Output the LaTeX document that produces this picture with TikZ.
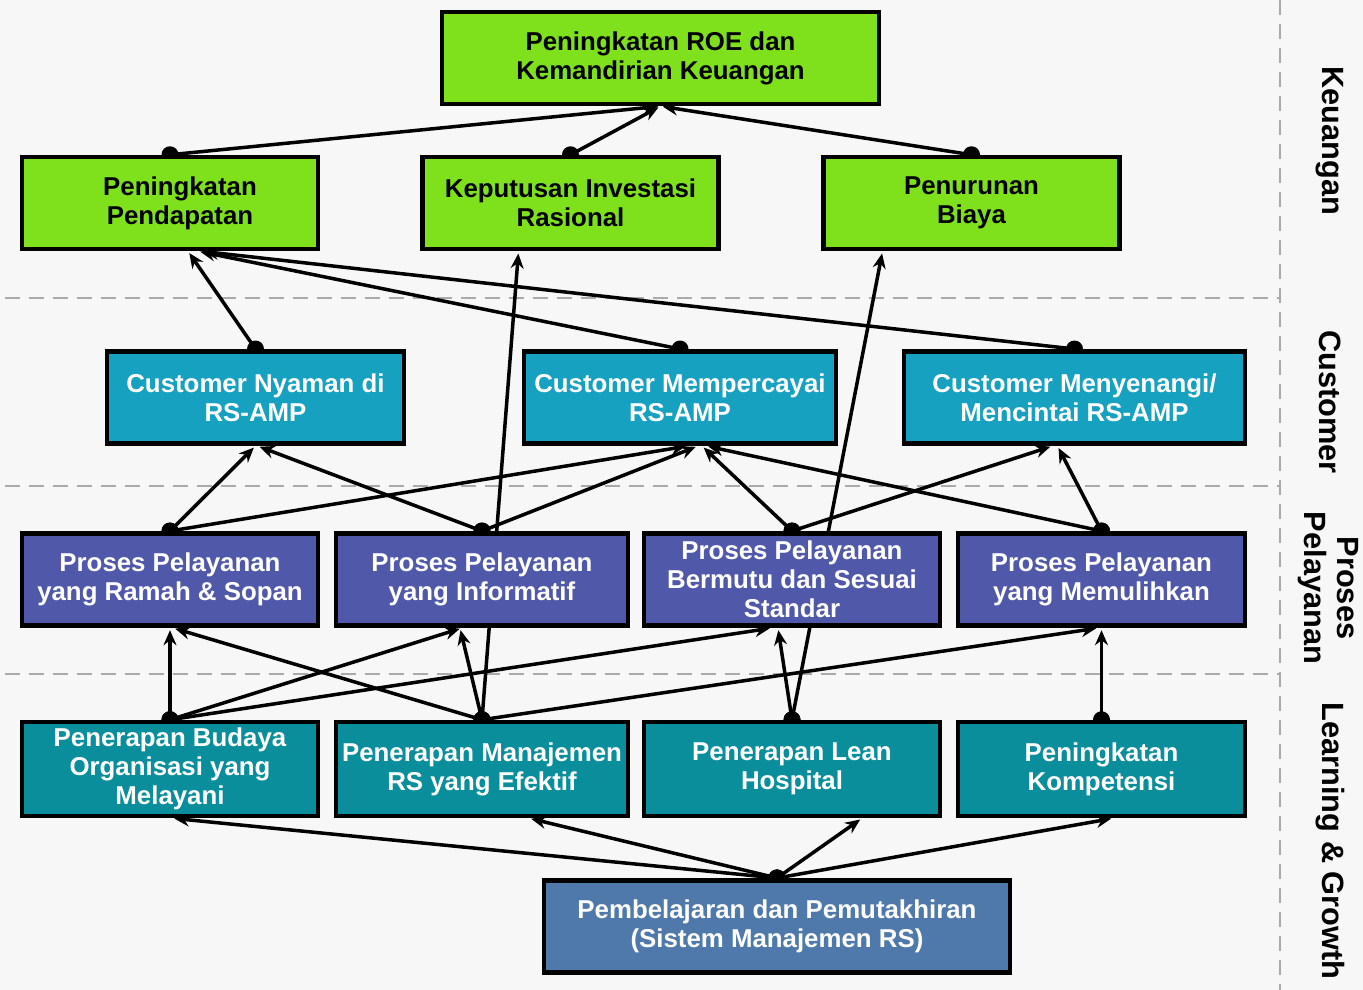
\documentclass[tikz,border=0pt]{standalone}
\usepackage{fontspec}
\setmainfont{Liberation Sans}
\usetikzlibrary{arrows.meta,calc}
\pgfdeclarelayer{bg}
\pgfdeclarelayer{wires}
\pgfsetlayers{bg,wires,main}
\definecolor{cgreen}{HTML}{7FE11B}
\definecolor{ccyan}{HTML}{17A1C1}
\definecolor{cpurple}{HTML}{5058AA}
\definecolor{cteal}{HTML}{0B8E9B}
\definecolor{csteel}{HTML}{4E79AA}
\definecolor{sepgray}{HTML}{AAAAAA}
\definecolor{bgcol}{HTML}{F7F7F7}
\tikzset{
  box/.style={draw=black, line width=0.09cm, inner sep=0pt, align=center,
    font=\fontsize{14.7}{16.4}\selectfont\bfseries, minimum height=1.85cm},
  gbox/.style={box, fill=cgreen, text=black},
  cbox/.style={box, fill=ccyan, text=white},
  pbox/.style={box, fill=cpurple, text=white},
  tbox/.style={box, fill=cteal, text=white},
  bbox/.style={box, fill=csteel, text=white},
  conn/.style={line width=0.07cm, -{Stealth[length=0.3cm,width=0.26cm,inset=0.1cm]}, shorten >=0.045cm},
  sep/.style={draw=sepgray, line width=0.04cm, dash pattern=on 0.3cm off 0.18cm},
  lane/.style={font=\fontsize{17.5}{18.7}\selectfont\bfseries, rotate=-90, align=center, inner sep=0pt}
}
\begin{document}
\begin{tikzpicture}[x=0.02cm, y=-0.02cm]
\useasboundingbox (0,0) rectangle (1363,990);
\begin{pgfonlayer}{bg}
  \fill[bgcol] (0,0) rectangle (1363,990);
  \draw[sep] (5,298) -- (1280,298);
  \draw[sep] (5,486) -- (1280,486);
  \draw[sep] (5,674) -- (1280,674);
  \draw[sep] (1280,0) -- (1280,990);
\end{pgfonlayer}

% Keuangan
\node[gbox, minimum width=8.74cm, minimum height=1.84cm] (roe) at (660.5,58) {Peningkatan ROE dan\\Kemandirian Keuangan};
\node[gbox, minimum width=5.92cm, minimum height=1.84cm] (pend) at (170,203) {\hspace*{0.4cm}Peningkatan\\\hspace*{0.4cm}Pendapatan};
\node[gbox, minimum width=5.92cm, minimum height=1.84cm] (inv) at (570.5,203) {Keputusan Investasi\\Rasional};
\node[gbox, minimum width=5.92cm, minimum height=1.84cm] (biaya) at (971.5,203) {Penurunan\\Biaya};
% Customer
\node[cbox, minimum width=5.94cm] (cnyaman) at (255.5,397.5) {Customer Nyaman di\\RS-AMP};
\node[cbox, minimum width=6.24cm] (cpercaya) at (680,397.5) {Customer Mempercayai\\RS-AMP};
\node[cbox, minimum width=6.82cm] (csenang) at (1074.5,397.5) {Customer Menyenangi/\\Mencintai RS-AMP};
% Proses
\node[pbox, minimum width=5.92cm] (pramah) at (170,579.5) {Proses Pelayanan\\yang Ramah \& Sopan};
\node[pbox, minimum width=5.84cm] (pinfo) at (482,579.5) {Proses Pelayanan\\yang Informatif};
\node[pbox, minimum width=5.92cm] (pmutu) at (792,579.5) {Proses Pelayanan\\Bermutu dan Sesuai\\Standar};
\node[pbox, minimum width=5.74cm] (ppulih) at (1101.5,579.5) {Proses Pelayanan\\yang Memulihkan};
% Learning
\node[tbox, minimum width=5.92cm, minimum height=1.88cm] (lbudaya) at (170,769) {Penerapan Budaya\\Organisasi yang\\Melayani};
\node[tbox, minimum width=5.84cm, minimum height=1.88cm] (lmanaj) at (482,769) {Penerapan Manajemen\\RS yang Efektif};
\node[tbox, minimum width=5.92cm, minimum height=1.88cm] (llean) at (792,769) {Penerapan Lean\\Hospital};
\node[tbox, minimum width=5.74cm, minimum height=1.88cm] (lkomp) at (1101.5,769) {Peningkatan\\Kompetensi};
\node[bbox, minimum width=9.32cm] (belajar) at (777,926.5) {Pembelajaran dan Pemutakhiran\\(Sistem Manajemen RS)};

% lane labels
\node[lane] (lk) at (1330,141) {Keuangan};
\node[lane] (lc) at (1330,402) {Customer};
\node[lane] (lp) at (1328,588) {Proses\\Pelayanan};
\node[lane] (ll) at (1330,841) {Learning \& Growth};

\begin{pgfonlayer}{wires}
\foreach \s/\t/\dx in {pend/roe/0, inv/roe/0, biaya/roe/0,
  cnyaman/pend/18, cpercaya/pend/28, csenang/pend/31,
  pramah/cnyaman/0, pinfo/cnyaman/2,
  pramah/cpercaya/8, pinfo/cpercaya/18, pmutu/cpercaya/22, ppulih/cpercaya/26,
  pmutu/csenang/-22, ppulih/csenang/-17,
  lmanaj/inv/-52, llean/biaya/-89,
  lbudaya/pramah/0, lmanaj/pramah/3,
  lbudaya/pinfo/-20, lmanaj/pinfo/-22,
  lbudaya/pmutu/-20, llean/pmutu/-14,
  lmanaj/ppulih/-3, lkomp/ppulih/0,
  belajar/lbudaya/2, belajar/lmanaj/47, belajar/llean/70, belajar/lkomp/12}{
  \draw[conn] (\s.north) -- ($(\t.south)+(\dx,0)$);
  \fill (\s.north) circle[radius=0.17cm];
}
\end{pgfonlayer}
\end{tikzpicture}
\end{document}
